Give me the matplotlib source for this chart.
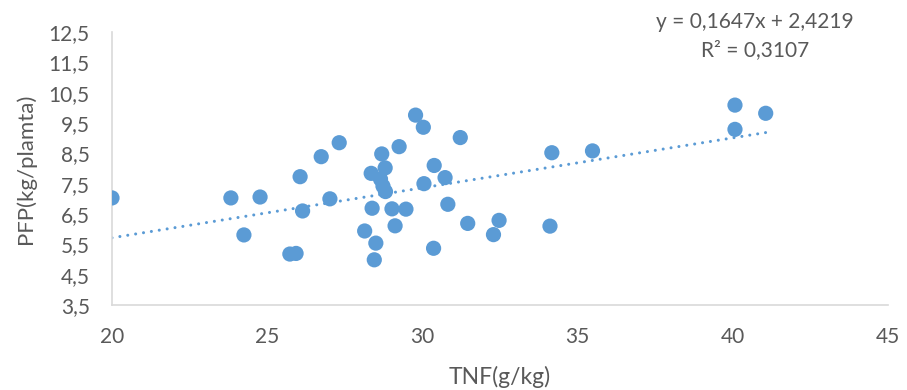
import numpy as np
import matplotlib
matplotlib.use("Agg")
import matplotlib.pyplot as plt
from matplotlib.ticker import FuncFormatter

# ---- data ----
tnf = [20.0, 23.83, 24.77, 24.25, 26.06, 26.14, 25.73, 25.93, 26.74, 27.32,
       27.02, 28.35, 28.38, 28.69, 28.80, 28.65, 28.73, 28.81, 29.25, 29.78,
       30.03, 31.22, 30.38, 30.73, 30.05, 29.02, 29.47, 29.12, 30.82, 31.46,
       32.47, 32.29, 28.14, 28.50, 28.45, 30.36, 34.17, 35.48, 34.11, 40.07,
       40.07, 41.06]
pfp = [7.03, 7.03, 7.06, 5.81, 7.73, 6.60, 5.18, 5.20, 8.39, 8.85,
       7.00, 7.84, 6.69, 8.48, 8.02, 7.65, 7.42, 7.24, 8.72, 9.76,
       9.36, 9.02, 8.10, 7.70, 7.50, 6.67, 6.66, 6.11, 6.82, 6.19,
       6.29, 5.82, 5.94, 5.54, 4.99, 5.37, 8.52, 8.58, 6.10, 10.09,
       9.29, 9.82]
slope = 0.1647
intercept = 2.4219
r2 = 0.3107
x_ticks = [20, 25, 30, 35, 40, 45]
y_ticks = [3.5, 4.5, 5.5, 6.5, 7.5, 8.5, 9.5, 10.5, 11.5, 12.5]

blue = "#5B9BD5"
grey_text = "#595959"
plt.rcParams['font.family'] = ['Lato', 'DejaVu Sans']

fig = plt.figure(figsize=(9.07, 3.90), dpi=100)
ax = fig.add_axes([112/907, 1-305/390, 776/907, 273/390])

ax.scatter(tnf, pfp, s=120, color=blue, edgecolors="none", zorder=3)

xs = np.array([min(tnf), max(tnf)])
ax.plot(xs, slope*xs + intercept, color=blue, lw=2.2, linestyle=(0, (0.01, 2.6)),
        dash_capstyle='round', zorder=2)

ax.set_xlim(20, 45)
ax.set_ylim(3.5, 12.5)
ax.set_xticks(x_ticks)
ax.set_yticks(y_ticks)
ax.yaxis.set_major_formatter(FuncFormatter(lambda v, p: f"{v:.1f}".replace('.', ',')))
ax.tick_params(length=0, labelsize=15, colors=grey_text)
ax.tick_params(axis='x', pad=16)
ax.tick_params(axis='y', pad=16)

for s in ['top', 'right']:
    ax.spines[s].set_visible(False)
for s in ['left', 'bottom']:
    ax.spines[s].set_color("#D9D9D9")
    ax.spines[s].set_linewidth(1.2)

ax.set_xlabel("TNF(g/kg)", fontsize=16.5, color=grey_text)
ax.set_ylabel("PFP(kg/plamta)", fontsize=16, color=grey_text)
ax.xaxis.set_label_coords(0.5, (305-377)/273)
ax.yaxis.set_label_coords((26-112)/776, 0.5)
ax.xaxis.label.set_va('center')
ax.yaxis.label.set_va('center')

eq = f"y = {slope:.4f}x + {intercept:.4f}".replace('.', ',')
r2t = f"R² = {r2:.4f}".replace('.', ',')
fig.text(755/907, 1-22/390, eq, ha='center', va='center', fontsize=15, color=grey_text)
fig.text(755/907, 1-50/390, r2t, ha='center', va='center', fontsize=15, color=grey_text)

fig.savefig("out.png", dpi=100)
